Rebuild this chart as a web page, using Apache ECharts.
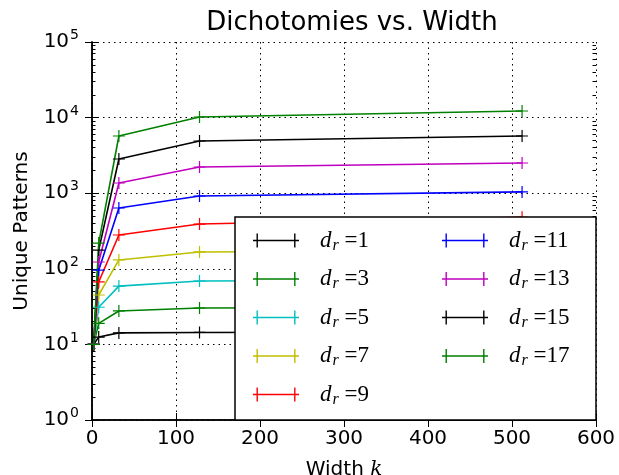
<!DOCTYPE html>
<html>
<head>
<meta charset="utf-8">
<script src="https://cdn.jsdelivr.net/npm/echarts@6/dist/echarts.min.js"></script>
<style>
  html,body{margin:0;padding:0;background:#fff;}
  #chart{width:619px;height:475px;}
</style>
</head>
<body>
<div id="chart"></div>
<script>
// ===== Dados =====
const widths = [2, 8, 32, 128, 512];
const dr1  = [10, 12.5, 14.2, 14.4, 14.6];
const dr3  = [10, 19, 27.7, 30.3, 31];
const dr5  = [10, 31, 59, 69, 71];
const dr7  = [10, 45, 131, 167, 175];
const dr9  = [10, 67, 280, 391, 480];
const dr11 = [10, 96, 637, 918, 1040];
const dr13 = [10, 123, 1364, 2220, 2510];
const dr15 = [10, 177, 2833, 4900, 5710];
const dr17 = [10, 219, 5710, 10190, 12220];

const seriesNames = ['1','3','5','7','9','11','13','15','17'];
const seriesData  = [dr1, dr3, dr5, dr7, dr9, dr11, dr13, dr15, dr17];
const colors = ['#000000','#008000','#00bfbf','#bfbf00','#ff0000','#0000ff','#bf00bf','#000000','#008000'];

// minor ticks do eixo log (2..9 em cada década), em espaço log10
const minorLog = [];
for (let n = 0; n < 5; n++) for (let k = 2; k <= 9; k++) minorLog.push(n + Math.log10(k));

const PLUS = 'path://M5.4,0h1.2v12h-1.2z M0,5.4h12v1.2h-12z';
const LEG_ICON = 'path://M0,6.3h46v1.4h-46z M3.5,0h1.4v14h-1.4z M41.1,0h1.4v14h-1.4z';

const chart = echarts.init(document.getElementById('chart'), null, {renderer:'canvas'});

const grid = {left:92, right:23, top:42, bottom:55, outerBoundsMode:'none', containLabel:false};
const dotted = {show:true, lineStyle:{color:'#000', type:[1.5,4], width:1}};
const axisLine = {show:true, lineStyle:{color:'#000', width:1.5}};

function legendLabel(name){ return '{d|d}{r|r}{e| =' + name + '}'; }
const legendRich = {
  d:{fontFamily:'Liberation Serif', fontStyle:'italic', fontSize:23, color:'#000'},
  r:{fontFamily:'Liberation Serif', fontStyle:'italic', fontSize:16, color:'#000', padding:[10,0,0,1]},
  e:{fontFamily:'Liberation Serif', fontSize:23, color:'#000'}
};

function makeLegend(left, names){
  return {
    left:left, top:224, orient:'vertical', itemGap:14, itemWidth:46, itemHeight:14,
    data:names.map(n => ({name:n, icon:LEG_ICON})),
    formatter:legendLabel, textStyle:{rich:legendRich, padding:[0,0,0,16]},
    selectedMode:false, z:20
  };
}

chart.setOption({
  animation:false,
  color:colors,
  title:{text:'Dichotomies vs. Width', left:347, top:5, textAlign:'center',
    textStyle:{fontFamily:'DejaVu Sans', fontWeight:'normal', fontSize:26, color:'#000'}},
  grid:grid,
  legend:[makeLegend(248, seriesNames.slice(0,5)), makeLegend(437, seriesNames.slice(5))],
  graphic:[{type:'rect', z:15, shape:{x:235, y:217, width:361, height:203},
    style:{fill:'#fff', stroke:'#000', lineWidth:1.5}}],
  xAxis:[
    {type:'value', min:0, max:600, interval:100, position:'bottom',
     name:'Width {k|k}', nameLocation:'middle', nameGap:40,
     nameTextStyle:{fontFamily:'DejaVu Sans', fontSize:20, color:'#000',
       rich:{k:{fontFamily:'DejaVu Serif', fontStyle:'italic', fontSize:20, color:'#000'}}},
     axisLine:axisLine, axisTick:{inside:true, length:7, lineStyle:{color:'#000'}},
     axisLabel:{fontFamily:'DejaVu Sans', fontSize:20, color:'#000', margin:9, showMaxLabel:true, showMinLabel:true},
     splitLine:dotted},
    {type:'value', min:0, max:600, interval:100, position:'top',
     axisLine:axisLine, axisTick:{inside:true, length:7, lineStyle:{color:'#000'}},
     axisLabel:{show:false}, splitLine:{show:false}}
  ],
  yAxis:[
    {type:'log', logBase:10, min:1, max:100000, position:'left',
     name:'Unique Patterns', nameLocation:'middle', nameGap:60, nameRotate:90,
     nameTextStyle:{fontFamily:'DejaVu Sans', fontSize:20, color:'#000'},
     axisLine:axisLine, axisTick:{inside:true, length:7, lineStyle:{color:'#000'}},
     axisLabel:{margin:13, formatter:v => '{b|10}{s|' + Math.round(Math.log10(v)) + '}',
       rich:{b:{fontFamily:'DejaVu Sans', fontSize:20, color:'#000'},
             s:{fontFamily:'DejaVu Sans', fontSize:14, color:'#000', padding:[0,0,13,1]}}},
     splitLine:dotted},
    {type:'log', logBase:10, min:1, max:100000, position:'right',
     axisLine:axisLine, axisTick:{inside:true, length:7, lineStyle:{color:'#000'}},
     axisLabel:{show:false}, splitLine:{show:false}},
    {type:'value', min:0, max:5, position:'left',
     axisLine:{show:false}, axisTick:{inside:true, length:3.5, customValues:minorLog, lineStyle:{color:'#000'}},
     axisLabel:{show:false}, splitLine:{show:false}},
    {type:'value', min:0, max:5, position:'right',
     axisLine:{show:false}, axisTick:{inside:true, length:3.5, customValues:minorLog, lineStyle:{color:'#000'}},
     axisLabel:{show:false}, splitLine:{show:false}}
  ],
  series:seriesData.map((vals, i) => ({
    name:seriesNames[i], type:'line', xAxisIndex:0, yAxisIndex:0,
    data:widths.map((w, j) => [w, vals[j]]),
    symbol:PLUS, symbolSize:12, showSymbol:true,
    lineStyle:{width:1.6, color:colors[i]}, itemStyle:{color:colors[i]},
    emphasis:{disabled:true}, z:3
  }))
});
</script>
</body>
</html>
